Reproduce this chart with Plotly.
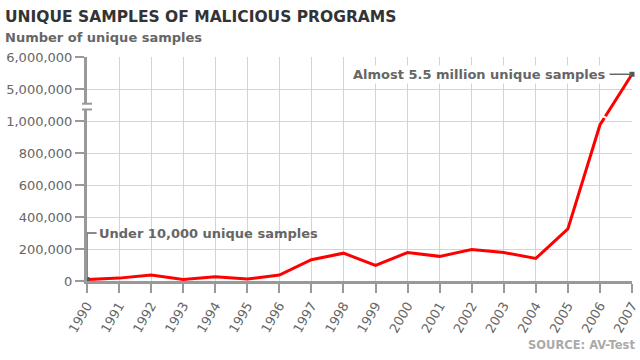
import plotly.graph_objects as go

years = list(range(1990, 2008))
samples = [9000, 18000, 37000, 10000, 26000, 12000, 37000, 133000, 174000, 98000,
           178000, 154000, 197000, 178000, 141000, 326000, 975000, 5460000]
tick_values = [0, 200000, 400000, 600000, 800000, 1000000, 5000000, 6000000]
tick_labels = ["0", "200,000", "400,000", "600,000", "800,000", "1,000,000", "5,000,000", "6,000,000"]

BREAK_LO, BREAK_HI = 1000000, 5000000


def ypos(v):
    # broken axis: 0..1M linear in 200k steps, then 5M..6M one step each
    if v <= BREAK_LO:
        return v / 200000
    return 6 + (v - BREAK_HI) / 1000000


ys = [ypos(v) for v in samples]
GRAY = "#666666"
FONT = "DejaVu Sans"

fig = go.Figure()
fig.add_trace(go.Scatter(x=years, y=ys, mode="lines",
                         line=dict(color="#ff0000", width=3), hoverinfo="skip"))
# annotation markers
fig.add_trace(go.Scatter(x=[years[0], years[-1]], y=[ys[0], ys[-1]], mode="markers",
                         marker=dict(symbol="square", size=5, color="#555555"),
                         hoverinfo="skip", cliponaxis=False))

W, L, R, T, B = 640, 87, 8, 57, 79
pw, ph = W - L - R, 360 - T - B


def px(xp):
    return (xp - L) / pw


def py(yp):
    return (360 - B - yp) / ph


shapes = []
# gap in the red line where it crosses the axis break
t = (5.12 - ys[-2]) / (ys[-1] - ys[-2])
gx = years[-2] + t * (years[-1] - years[-2])
shapes.append(dict(type="line", xref="x", yref="y", x0=gx - 0.12, x1=gx + 0.12,
                   y0=5.12 + 0.06, y1=5.12 - 0.06, line=dict(color="white", width=2),
                   layer="above"))
# y-axis break marks
shapes.append(dict(type="rect", xref="paper", yref="y", x0=px(80), x1=px(93),
                   y0=5.36, y1=5.54, fillcolor="white", line=dict(width=0), layer="above"))
for yb in (5.36, 5.54):
    shapes.append(dict(type="line", xref="paper", yref="y", x0=px(82), x1=px(92),
                       y0=yb, y1=yb, line=dict(color="#999999", width=2), layer="above"))
# leader line for first annotation
shapes.append(dict(type="path", xref="x", yref="y",
                   path=f"M {years[0]},{ys[0]} L {years[0]},{1.5} L {years[0] + 0.3},{1.5}",
                   line=dict(color=GRAY, width=1.5), layer="above"))
# leader line for last annotation
shapes.append(dict(type="line", xref="x", yref="y", x0=years[-1] - 0.7, x1=years[-1],
                   y0=ys[-1], y1=ys[-1], line=dict(color=GRAY, width=1.5), layer="above"))

annotations = [
    dict(text="<b>UNIQUE SAMPLES OF MALICIOUS PROGRAMS</b>", xref="paper", yref="paper",
         x=px(3), y=py(17), xanchor="left", yanchor="middle", showarrow=False,
         font=dict(family=FONT, size=15.5, color="#333333")),
    dict(text="<b>Number of unique samples</b>", xref="paper", yref="paper",
         x=px(3), y=py(38), xanchor="left", yanchor="middle", showarrow=False,
         font=dict(family=FONT, size=13, color=GRAY)),
    dict(text="<b>SOURCE: AV-Test</b>", xref="paper", yref="paper",
         x=px(637), y=py(345), xanchor="right", yanchor="middle", showarrow=False,
         font=dict(family=FONT, size=11.5, color="#aaaaaa")),
    dict(text="<b>Under 10,000 unique samples</b>", xref="x", yref="y",
         x=years[0] + 0.3, y=1.5, xanchor="left", yanchor="middle", showarrow=False,
         font=dict(family=FONT, size=13, color=GRAY)),
    dict(text="<b>Almost 5.5 million unique samples</b>", xref="x", yref="y",
         x=years[-1] - 0.75, y=ys[-1], xanchor="right", yanchor="middle", showarrow=False,
         font=dict(family=FONT, size=13, color=GRAY), bgcolor="white"),
]

fig.update_layout(
    width=W, height=360, margin=dict(l=L, r=R, t=T, b=B),
    paper_bgcolor="white", plot_bgcolor="white", showlegend=False,
    shapes=shapes, annotations=annotations,
    xaxis=dict(range=[years[0], years[-1]], tickmode="array", tickvals=years,
               ticktext=[str(y) for y in years], tickangle=-60, automargin=False,
               ticklabeloverflow="allow",
               showgrid=True, gridcolor="#d4d4d4", gridwidth=1,
               showline=True, linecolor="#999999", linewidth=3,
               ticks="outside", ticklen=9, tickcolor="#999999", tickwidth=2,
               zeroline=False, tickfont=dict(family=FONT, size=13, color=GRAY)),
    yaxis=dict(range=[0, 7], tickmode="array", automargin=False,
               ticklabeloverflow="allow",
               tickvals=[ypos(v) for v in tick_values], ticktext=tick_labels,
               showgrid=True, gridcolor="#d4d4d4", gridwidth=1,
               showline=True, linecolor="#999999", linewidth=3,
               ticks="outside", ticklen=9, tickcolor="#999999", tickwidth=2,
               zeroline=False, tickfont=dict(family=FONT, size=13, color=GRAY)),
)

fig.write_html("out.html", config={"displayModeBar": False},
               post_script="document.body.style.margin='0';document.body.style.overflow='hidden';")
